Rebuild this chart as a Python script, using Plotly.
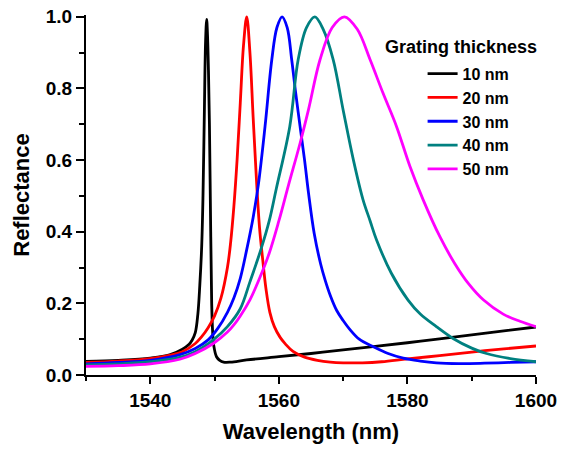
import plotly.graph_objects as go

# ---------------- data ----------------
wl_10 = [1530, 1535, 1540, 1543, 1545, 1546, 1546.5, 1547, 1547.4, 1547.7, 1548.0, 1548.2,
         1548.4, 1548.6, 1548.77, 1548.9, 1549.05, 1549.2, 1549.4, 1549.55, 1549.7, 1549.85,
         1550.3, 1550.8, 1551.4, 1552.5, 1555, 1560, 1565, 1570, 1575, 1580, 1585, 1590,
         1595, 1600]
r_10 = [0.038, 0.041, 0.047, 0.056, 0.072, 0.085, 0.097, 0.118, 0.17, 0.25, 0.36, 0.50,
        0.72, 0.93, 0.993, 0.95, 0.85, 0.70, 0.40, 0.20, 0.12, 0.085,
        0.051, 0.041, 0.036, 0.036, 0.042, 0.051, 0.060, 0.070, 0.080, 0.090, 0.101, 0.112,
        0.123, 0.134]

wl_20 = [1530, 1535, 1540, 1543, 1545, 1547, 1548, 1549, 1550, 1551, 1552, 1552.5, 1553,
         1553.5, 1554, 1554.5, 1555, 1555.5, 1556, 1556.5, 1557, 1557.5, 1558, 1558.6,
         1559.3, 1560.2, 1561, 1562.2, 1564, 1566, 1568, 1570, 1573, 1576, 1580, 1585,
         1590, 1595, 1600]
r_20 = [0.035, 0.039, 0.046, 0.055, 0.065, 0.088, 0.107, 0.132, 0.165, 0.215, 0.30, 0.37,
        0.47, 0.60, 0.76, 0.92, 1.0, 0.90, 0.72, 0.55, 0.41, 0.32, 0.24, 0.175,
        0.135, 0.105, 0.087, 0.066, 0.050, 0.041, 0.036, 0.034, 0.034, 0.037, 0.045, 0.054,
        0.064, 0.073, 0.081]

wl_30 = [1530, 1535, 1540, 1544.5, 1547, 1549, 1550.5, 1552, 1553, 1554, 1555, 1556,
         1556.8, 1557.85, 1558.9, 1559.7, 1560.5, 1561.3, 1562.0, 1562.6, 1563.3, 1564.0,
         1564.6, 1565.5, 1566.5, 1567.2, 1568.0, 1569.0, 1570.0, 1571.0, 1572.5, 1574.7,
         1577, 1579.35, 1582, 1584.5, 1588, 1592, 1596, 1600]
r_30 = [0.031, 0.035, 0.041, 0.056, 0.074, 0.098, 0.13, 0.175, 0.215, 0.27, 0.35, 0.44,
        0.53, 0.694, 0.88, 0.97, 1.0, 0.97, 0.88, 0.79, 0.694, 0.60,
        0.51, 0.395, 0.31, 0.265, 0.222, 0.18, 0.152, 0.128, 0.10, 0.079,
        0.06, 0.047, 0.039, 0.034, 0.032, 0.033, 0.035, 0.037]

wl_40 = [1530, 1535, 1540, 1544.6, 1547, 1549.8, 1552, 1554, 1555.5, 1557.2, 1558.5, 1559.6,
         1561.7, 1563.0, 1564.3, 1565.6, 1566.9, 1568.46, 1570.0, 1571.6, 1573.1, 1574.2,
         1575.2, 1577.5, 1580.1, 1582, 1584.5, 1587.1, 1590, 1592.3, 1596, 1600]
r_40 = [0.028, 0.031, 0.037, 0.049, 0.065, 0.098, 0.135, 0.185, 0.26, 0.35, 0.43, 0.52,
        0.694, 0.88, 0.97, 1.0, 0.965, 0.88, 0.74, 0.60, 0.489, 0.43,
        0.377, 0.284, 0.209, 0.17, 0.135, 0.102, 0.075, 0.06, 0.046, 0.037]

wl_50 = [1530, 1535, 1540, 1544.6, 1547, 1549.8, 1552, 1553, 1554, 1555.5, 1557, 1558.5, 1560,
         1561.5, 1563.3, 1564.6, 1566.4, 1568.3, 1570.2, 1572.2, 1574.2, 1576.2, 1578.3,
         1580.4, 1582.45, 1585.05, 1587.4, 1589.5, 1591.8, 1594.9, 1597.5, 1600]
r_50 = [0.024, 0.026, 0.031, 0.044, 0.060, 0.088, 0.12, 0.14, 0.165, 0.21, 0.27, 0.34, 0.43,
        0.53, 0.647, 0.74, 0.88, 0.97, 1.0, 0.965, 0.88, 0.787, 0.694,
        0.582, 0.489, 0.386, 0.31, 0.255, 0.21, 0.17, 0.15, 0.135]

series_names = ["10 nm", "20 nm", "30 nm", "40 nm", "50 nm"]
series_x = [wl_10, wl_20, wl_30, wl_40, wl_50]
series_y = [r_10, r_20, r_30, r_40, r_50]
series_colors = ["#000000", "#FF0000", "#0000FF", "#008080", "#FF00FF"]

legend_title = "Grating thickness"
x_ticks = [1540, 1560, 1580, 1600]
y_ticks = [0.0, 0.2, 0.4, 0.6, 0.8, 1.0]

FONT = "Arial, Liberation Sans, sans-serif"

fig = go.Figure()
for name, xs, ys, col in zip(series_names, series_x, series_y, series_colors):
    fig.add_trace(go.Scatter(x=xs, y=ys, mode="lines", name=name,
                             line=dict(color=col, width=2.8, shape="spline", smoothing=1.0)))

fig.add_annotation(
    text=legend_title, xref="paper", yref="paper", x=0.834, y=0.912,
    xanchor="center", yanchor="middle", showarrow=False,
    font=dict(family=FONT, size=18, color="black", weight="bold"),
)

fig.update_layout(
    width=561, height=449,
    margin=dict(l=86, r=25, t=15, b=74, autoexpand=False),
    paper_bgcolor="white", plot_bgcolor="white",
    font=dict(family=FONT, size=19, color="black", weight="bold"),
    showlegend=True,
    legend=dict(
        x=0.748, y=0.884, xanchor="left", yanchor="top",
        bgcolor="rgba(0,0,0,0)",
        font=dict(family=FONT, size=16, color="black", weight="bold"),
        tracegroupgap=0,
    ),
    xaxis=dict(
        range=[1530, 1600], tickvals=x_ticks, ticktext=[str(v) for v in x_ticks],
        showline=True, linecolor="black", linewidth=2, mirror=False,
        ticks="outside", ticklen=7, tickwidth=2, tickcolor="black",
        minor=dict(ticks="outside", dtick=10, tick0=1530, ticklen=4, tickwidth=2,
                   tickcolor="black", showgrid=False),
        showgrid=False, zeroline=False, automargin=False,
        title=dict(text="Wavelength (nm)", standoff=14,
                   font=dict(family=FONT, size=22, color="black", weight="bold")),
        tickfont=dict(family=FONT, size=19, color="black", weight="bold"),
    ),
    yaxis=dict(
        range=[0, 1.005], tickvals=y_ticks, ticktext=[f"{v:.1f}" for v in y_ticks],
        showline=True, linecolor="black", linewidth=2, mirror=False,
        ticks="outside", ticklen=8, tickwidth=2, tickcolor="black",
        minor=dict(ticks="outside", dtick=0.1, tick0=0, ticklen=5, tickwidth=2,
                   tickcolor="black", showgrid=False),
        showgrid=False, zeroline=False, automargin=False,
        title=dict(text="Reflectance", standoff=10,
                   font=dict(family=FONT, size=22, color="black", weight="bold")),
        tickfont=dict(family=FONT, size=19, color="black", weight="bold"),
    ),
)

fig.write_html("out.html")
